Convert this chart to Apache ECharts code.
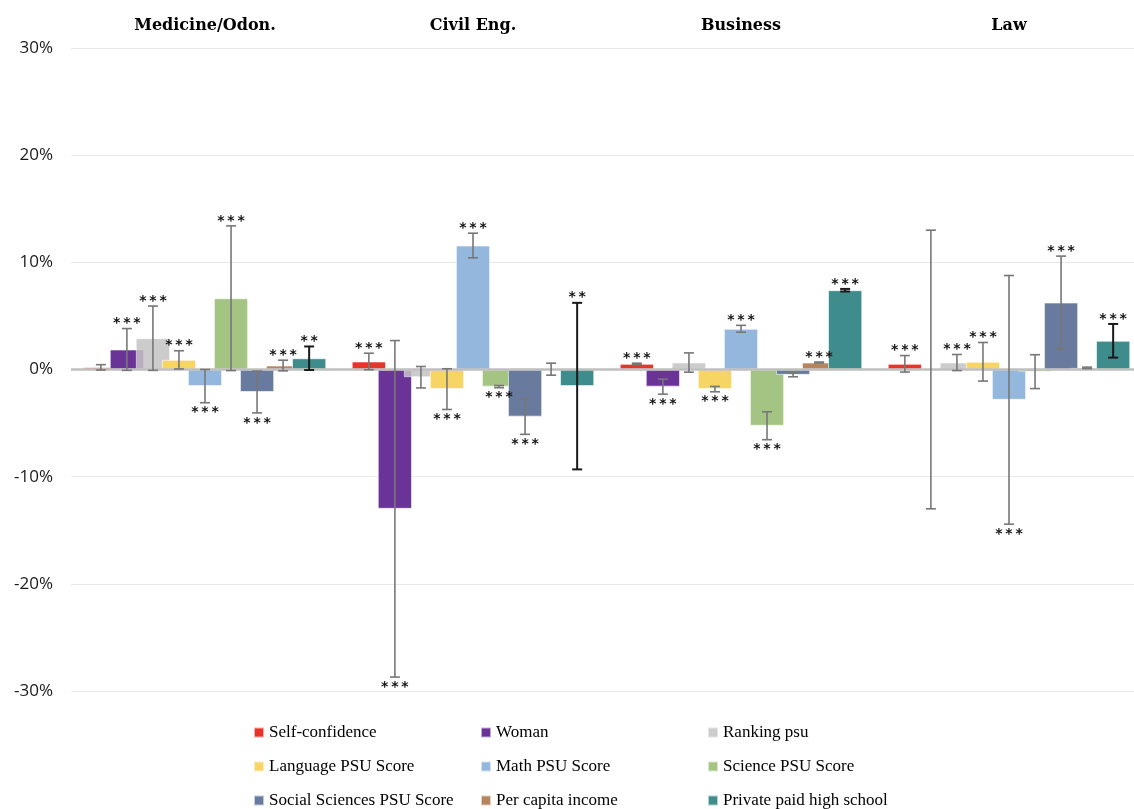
<!DOCTYPE html>
<html>
<head>
<meta charset="utf-8">
<script src="https://cdn.jsdelivr.net/npm/echarts@6/dist/echarts.min.js"></script>
<style>
  html, body { margin: 0; padding: 0; background: #fff; overflow: hidden; }
  #chart { width: 1143px; height: 809px; }
</style>
</head>
<body>
<div id="chart"></div>
<script>
// categories (careers) and the 9 regressors
const categories = ['Medicine/Odon.', 'Civil Eng.', 'Business', 'Law'];
const seriesNames = [
  'Self-confidence', 'Woman', 'Ranking psu',
  'Language PSU Score', 'Math PSU Score', 'Science PSU Score',
  'Social Sciences PSU Score', 'Per capita income', 'Private paid high school'
];
const colors = ['#E8352B', '#6A3398', '#C3C3C3', '#F7D564', '#94B7DE', '#A3C483', '#687A9E', '#B6855D', '#3F8C8D'];

// coefficient (%) per series, one value per category
const values = [
  [0.2, 0.75, 0.53, 0.53],
  [1.87, -13.0, -1.6, 0.0],
  [2.92, -0.72, 0.65, 0.65],
  [0.9, -1.83, -1.83, 0.72],
  [-1.55, 11.57, 3.8, -2.83],
  [6.65, -1.6, -5.25, -0.2],
  [-2.1, -4.4, -0.5, 6.25],
  [0.37, 0.03, 0.65, 0.15],
  [1.05, -1.55, 7.4, 2.68]
];
// half-length of the error bars (%)
const errors = [
  [0.25, 0.77, 0.06, 0.77],
  [1.95, 15.7, 0.7, 13.0],
  [3.0, 1.0, 0.9, 0.75],
  [0.85, 1.9, 0.25, 1.8],
  [1.55, 1.15, 0.32, 11.6],
  [6.75, 0.1, 1.3, 1.58],
  [1.95, 1.65, 0.18, 4.33],
  [0.5, 0.56, 0.05, 0.07],
  [1.1, 7.77, 0.12, 1.57]
];
// significance stars
const stars = [
  ['', '***', '***', '***'],
  ['***', '***', '***', ''],
  ['***', '', '', '***'],
  ['***', '***', '***', '***'],
  ['***', '***', '***', '***'],
  ['***', '***', '***', ''],
  ['***', '***', '', '***'],
  ['***', '', '***', ''],
  ['**', '**', '***', '***']
];
// stars drawn above the bar even though the value is negative [series, category]
const starsAboveNeg = [[8, 1]];

const yTicks = { min: -30, max: 30, interval: 10 };

const BAR_GAP = '-24%';
const CAT_GAP = '9.5%';

var dom = document.getElementById('chart');
var myChart = echarts.init(dom, null, { renderer: 'canvas' });

const barSeries = seriesNames.map(function (name, i) {
  return {
    name: name,
    type: 'bar',
    data: values[i],
    barGap: BAR_GAP,
    barCategoryGap: CAT_GAP,
    itemStyle: {
      color: colors[i],
      opacity: i === 2 ? 0.85 : 1,
      borderColor: 'rgba(255,255,255,0.6)',
      borderWidth: 1
    }
  };
});

const errData = [];
values.forEach(function (row, s) {
  row.forEach(function (v, c) {
    errData.push([c, v, errors[s][c], s]);
  });
});

function isAbove(s, c) {
  if (values[s][c] >= 0) return true;
  return starsAboveNeg.some(function (p) { return p[0] === s && p[1] === c; });
}

const errSeries = {
  type: 'custom',
  name: 'errors',
  silent: true,
  z: 5,
  data: errData,
  encode: { x: 0, y: 1 },
  renderItem: function (params, api) {
    const c = api.value(0), v = api.value(1), e = api.value(2), s = api.value(3);
    let offset;
    const lay = api.barLayout ? api.barLayout({ count: 9, barGap: BAR_GAP, barCategoryGap: CAT_GAP }) : null;
    if (lay && lay[s]) {
      offset = lay[s].offsetCenter != null ? lay[s].offsetCenter : lay[s].offset + lay[s].width / 2;
    } else {
      const band = api.size([1, 0])[0];
      const w = band * 0.905 / (9 - 8 * 0.24);
      offset = (s - 4) * w * 0.76;
    }
    const x = api.coord([c, 0])[0] + offset;
    const yHi = api.coord([c, v + e])[1];
    const yLo = api.coord([c, v - e])[1];
    const col = s === 8 ? '#1a1a1a' : '#777777';
    const lw = s === 8 ? 2 : 1.6;
    const cap = 5;
    const children = [
      { type: 'line', shape: { x1: x, y1: yHi, x2: x, y2: yLo }, style: { stroke: col, lineWidth: lw } },
      { type: 'line', shape: { x1: x - cap, y1: yHi, x2: x + cap, y2: yHi }, style: { stroke: col, lineWidth: lw } },
      { type: 'line', shape: { x1: x - cap, y1: yLo, x2: x + cap, y2: yLo }, style: { stroke: col, lineWidth: lw } }
    ];
    const st = stars[s][c];
    if (st) {
      const above = isAbove(s, c);
      children.push({
        type: 'text',
        style: {
          text: st.split('').join('\u2009'),
          x: x,
          y: above ? yHi + 2 : yLo + 3,
          align: 'center',
          verticalAlign: above ? 'bottom' : 'top',
          fontFamily: 'DejaVu Sans',
          fontWeight: 'bold',
          fontSize: 14,
          fill: '#111'
        }
      });
    }
    return { type: 'group', children: children };
  },
  markLine: {
    silent: true,
    symbol: 'none',
    label: { show: false },
    lineStyle: { color: '#BFBFBF', width: 2.5, type: 'solid' },
    data: [{ yAxis: 0 }]
  }
};

const option = {
  animation: false,
  color: colors,
  grid: { left: 71, top: 48, right: 0, bottom: 118 },
  legend: {
    data: seriesNames,
    left: 253,
    top: 723,
    width: 690,
    padding: 0,
    itemGap: 15,
    itemWidth: 10,
    itemHeight: 10,
    icon: 'rect',
    textStyle: {
      fontFamily: 'Liberation Serif',
      fontSize: 17,
      color: '#000',
      width: 196,
      lineHeight: 19
    }
  },
  xAxis: {
    type: 'category',
    data: categories,
    position: 'top',
    axisLine: { show: false },
    axisTick: { show: false },
    axisLabel: {
      margin: 14,
      fontFamily: 'DejaVu Serif',
      fontWeight: 'bold',
      fontSize: 16,
      color: '#000'
    }
  },
  yAxis: {
    type: 'value',
    min: yTicks.min,
    max: yTicks.max,
    interval: yTicks.interval,
    axisLine: { show: false },
    axisTick: { show: false },
    axisLabel: {
      formatter: '{value}%',
      fontFamily: 'Open Sans',
      fontSize: 17,
      color: '#1a1a1a',
      margin: 18
    },
    splitLine: { lineStyle: { color: '#E8E8E8', width: 1 } }
  },
  series: barSeries.concat([errSeries])
};

myChart.setOption(option);
window.addEventListener('resize', myChart.resize);
</script>
</body>
</html>
